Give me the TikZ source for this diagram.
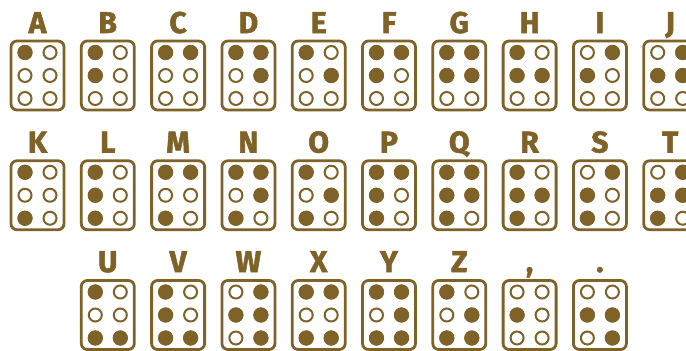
\documentclass[tikz,border=0pt]{standalone}
\usepackage{fontspec}
\setmainfont{Fira Sans}[BoldFeatures={FakeBold=1.8}]
\definecolor{br}{HTML}{7E6228}
\begin{document}
\begin{tikzpicture}[x=1pt,y=-1pt,
  cell/.style={draw=br,line width=2.8pt,rounded corners=6pt,minimum width=53pt,minimum height=69pt,inner sep=0pt},
  lett/.style={text=br,font=\fontsize{30}{30}\selectfont\bfseries,anchor=base,inner sep=0pt},
  hole/.style={draw=br,line width=2pt},
  bump/.style={fill=br}]
\useasboundingbox (0,0) rectangle (686,351);
\clip (0,0) rectangle (686,351);
\foreach \lab/\c/\r/\d in {A/0/0/{1},B/1/0/{1,2},C/2/0/{1,4},D/3/0/{1,4,5},E/4/0/{1,5},F/5/0/{1,2,4},G/6/0/{1,2,4,5},H/7/0/{1,2,5},I/8/0/{2,4},J/9/0/{2,4,5},
  K/0/1/{1,3},L/1/1/{1,2,3},M/2/1/{1,3,4},N/3/1/{1,3,4,5},O/4/1/{1,3,5},P/5/1/{1,2,3,4},Q/6/1/{1,2,3,4,5},R/7/1/{1,2,3,5},S/8/1/{2,3,4},T/9/1/{2,3,4,5},
  U/1/2/{1,3,6},V/2/2/{1,2,3,6},W/3/2/{2,4,5,6},X/4/2/{1,3,4,6},Y/5/2/{1,3,4,5,6},Z/6/2/{1,3,5,6},{,}/7/2/{2},{.}/8/2/{2,5,6}}{
  \pgfmathsetmacro\cx{37.5+70.3*\c}
  \pgfmathsetmacro\cy{75.5+119.75*\r}
  \pgfmathsetmacro\ly{33+119.5*\r}
  \node[cell] (b\c-\r) at (\cx,\cy) {};
  \node[lett] (l\c-\r) at (\cx,\ly) {\lab};
  \foreach \k in {1,...,6}{
    \pgfmathsetmacro\dx{\k>3 ? 12.5 : -12.5}
    \pgfmathsetmacro\dy{(mod(\k-1,3)-1)*23}
    \draw[hole] ([shift={(\dx,\dy)}]b\c-\r.center) circle (6.5);
  }
  \foreach \k in \d{
    \pgfmathsetmacro\dx{\k>3 ? 12.5 : -12.5}
    \pgfmathsetmacro\dy{(mod(\k-1,3)-1)*23}
    \fill[bump] ([shift={(\dx,\dy)}]b\c-\r.center) circle (7.6);
  }
}
\end{tikzpicture}
\end{document}
